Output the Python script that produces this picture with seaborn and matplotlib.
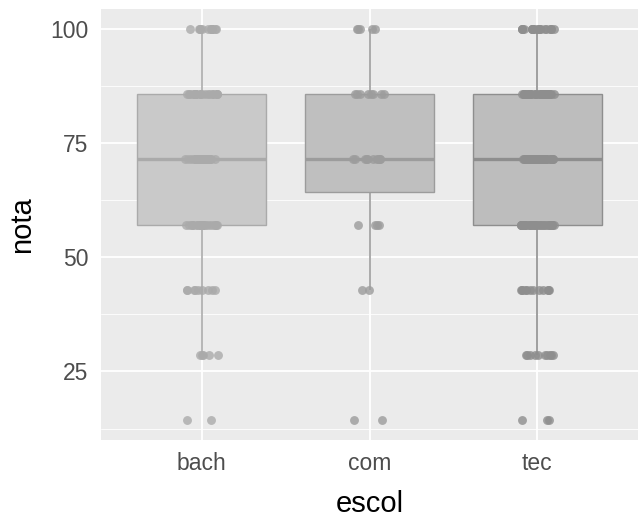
import numpy as np
import pandas as pd
import matplotlib
matplotlib.use("Agg")
import matplotlib.pyplot as plt
import seaborn as sns

# Score levels (percent of 7 questions) and how many students got each one
levels = [14.29, 28.57, 42.86, 57.14, 71.43, 85.71, 100.0]
groups = ["bach", "com", "tec"]
count_bach = [2, 5, 9, 20, 24, 20, 12]
count_com = [2, 0, 2, 4, 10, 8, 5]
count_tec = [3, 10, 12, 30, 36, 34, 20]

fills = {"bach": "#c9c9c9", "com": "#bfbfbf", "tec": "#bdbdbd"}
edges = {"bach": "#aaaaaa", "com": "#9c9c9c", "tec": "#8e8e8e"}

rows = []
for g, counts in zip(groups, [count_bach, count_com, count_tec]):
    for lv, c in zip(levels, counts):
        rows += [(g, lv)] * c
df = pd.DataFrame(rows, columns=["escol", "nota"])

sns.set_theme(style="darkgrid")
plt.rcParams["font.family"] = ["Liberation Sans", "DejaVu Sans"]
np.random.seed(7)

fig = plt.figure(figsize=(6.4, 5.17), dpi=100)
ax = fig.add_axes([101 / 640, 77 / 517, 537 / 640, 431 / 517])
ax.set_facecolor("#ebebeb")

sns.boxplot(data=df, x="escol", y="nota", order=groups, width=0.77,
            whis=1.45, showfliers=False, showcaps=False, ax=ax,
            palette=fills, hue="escol", legend=False, linewidth=1.0,
            zorder=2, medianprops=dict(linewidth=2.4),
            whiskerprops=dict(linewidth=1.2))
# recolour box outlines per group
for i, g in enumerate(groups):
    ax.patches[i].set_edgecolor(edges[g])
for line in ax.lines:
    idx = int(round(np.mean(line.get_xdata())))
    if 0 <= idx < 3:
        line.set_color(edges[groups[idx]])

for g in groups:
    sub = df[df.escol == g]
    sns.stripplot(data=sub, x="escol", y="nota", order=groups, jitter=0.1,
                  size=6.4, color=edges[g], alpha=0.8, linewidth=0,
                  ax=ax, zorder=3)

ax.set_xlim(-0.6, 2.6)
ax.set_ylim(10.0, 104.3)
ax.set_yticks([25, 50, 75, 100])
ax.set_yticks([12.5, 37.5, 62.5, 87.5], minor=True)
ax.grid(True, which="major", color="white", linewidth=1.3)
ax.grid(True, which="minor", axis="y", color="white", linewidth=0.6)
ax.grid(False, which="minor", axis="x")
ax.set_axisbelow(True)
for s in ax.spines.values():
    s.set_visible(False)
ax.tick_params(axis="both", which="major", length=4, width=0.9,
               color="#333333", labelcolor="#4d4d4d", labelsize=16.5, pad=5)
ax.tick_params(axis="both", which="minor", length=0)
ax.set_xlabel("escol", fontsize=21, color="black")
ax.set_ylabel("nota", fontsize=21, color="black")
ax.xaxis.set_label_coords(0.5, (440 - 490) / 431)
ax.yaxis.set_label_coords((36 - 101) / 537, 0.5)

fig.savefig("out.png", dpi=100)
